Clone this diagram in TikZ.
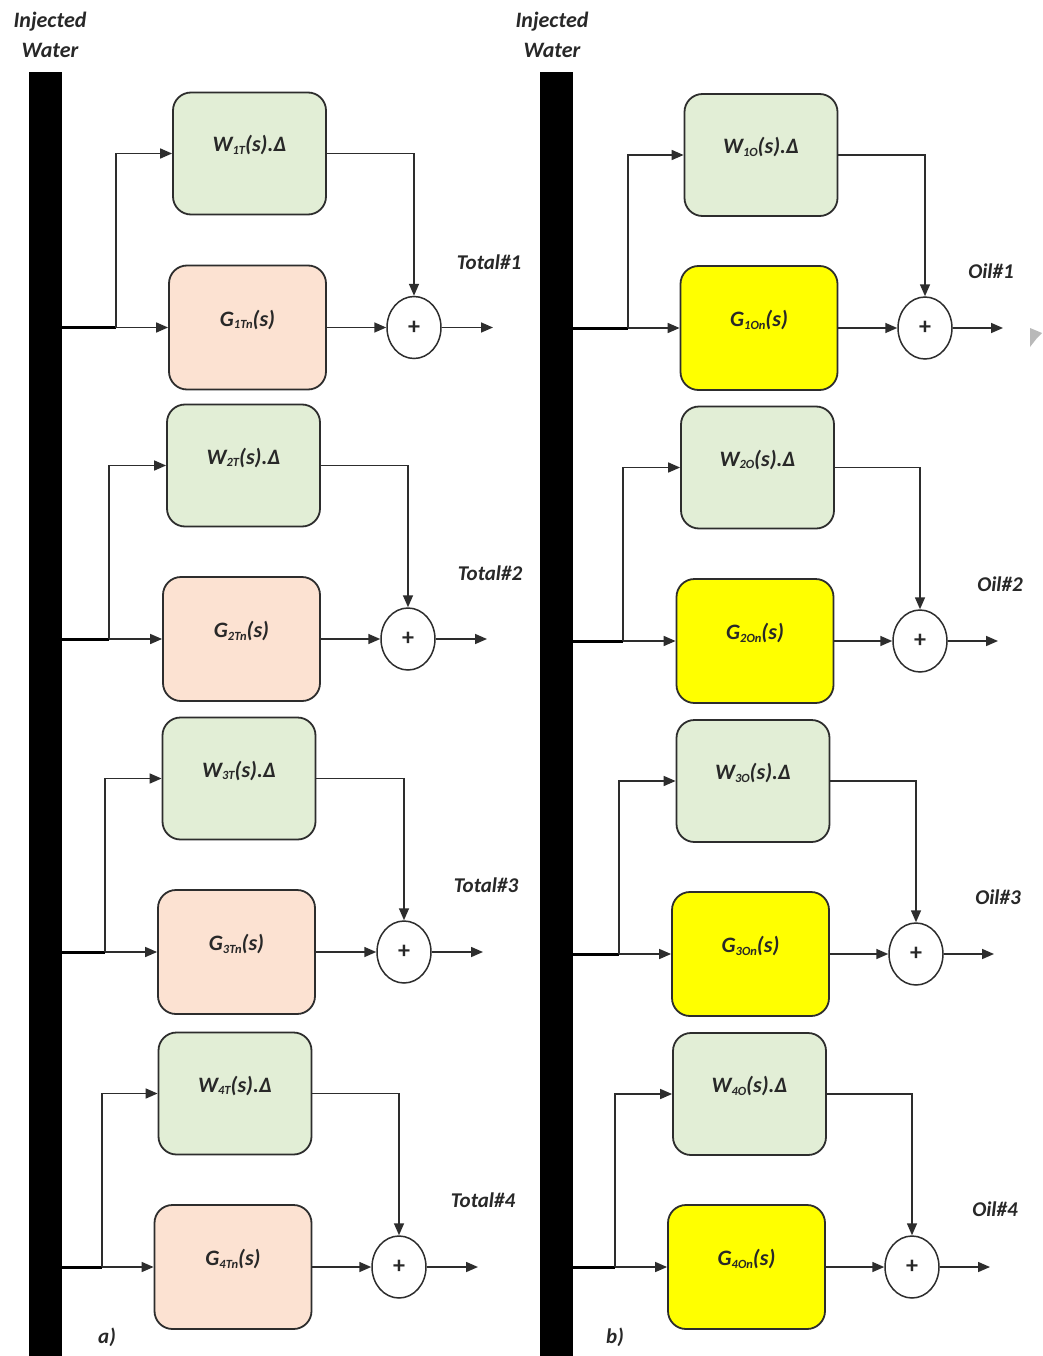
\documentclass[tikz,border=0pt]{standalone}
\usepackage{fontspec}
\setmainfont{Carlito}
\usetikzlibrary{shapes.geometric,arrows.meta}
\definecolor{wfill}{RGB}{226,238,214}
\definecolor{gfill}{RGB}{252,226,210}
\definecolor{yfill}{RGB}{255,255,0}
\definecolor{edge}{RGB}{45,45,45}
\definecolor{txt}{RGB}{40,40,40}
\newcommand{\subx}[1]{\raisebox{-0.12em}{\fontsize{12.5}{12.5}\selectfont #1}}
\begin{document}
\begin{tikzpicture}[x=1pt,y=-1pt,
  font=\fontsize{22}{26}\selectfont\bfseries\itshape, text=txt,
  boxbase/.style={draw=edge, line width=1.8pt, rounded corners=18pt, inner sep=0pt, text height=15pt, text depth=18pt},
  wbox/.style={boxbase, fill=wfill, minimum width=153pt, minimum height=122pt},
  gbox/.style={boxbase, fill=gfill, minimum width=157pt, minimum height=124pt},
  ybox/.style={boxbase, fill=yfill, minimum width=157pt, minimum height=124pt},
  sumnode/.style={draw=edge, line width=1.5pt, ellipse, minimum width=54pt, minimum height=62pt, inner sep=0pt, fill=white, font=\fontsize{24}{24}\selectfont\bfseries},
  ln/.style={draw=edge, line width=1.6pt},
  thk/.style={draw=black, line width=3pt},
  arr/.style={ln, -{Triangle[length=12pt,width=10pt]}},
  barstyle/.style={fill=black, draw=none, minimum width=33pt, minimum height=1284pt, inner sep=0pt},
  lbl/.style={font=\fontsize{21}{25}\selectfont\bfseries\itshape}
]
\useasboundingbox (0,0) rectangle (1042,1356);
\fill[white] (0,0) rectangle (1042,1356);

% bars
\node[barstyle] (barL) at (45,714) {};
\node[barstyle] (barR) at (556,714) {};

% headers
\node[align=center, font=\fontsize{22}{30}\selectfont\bfseries\itshape] (hL) at (50,35) {Injected\\Water};
\node[align=center, font=\fontsize{22}{30}\selectfont\bfseries\itshape] (hR) at (552,35) {Injected\\Water};

% left panel
\foreach \k/\wx/\wy/\gx/\gy/\cx/\bx/\lx/\ly in {
  1/249.5/153.5/247.5/327.5/414/116/489/262,
  2/243.5/465.5/241.5/639/408/109/490/573,
  3/239/778.5/236.5/952/404/105/486/885,
  4/235/1093.5/233/1267/399/102/483/1200}{
  \node[wbox] (wL\k) at (\wx,\wy) {W\subx{\k T}(s).Δ};
  \node[gbox] (gL\k) at (\gx,\gy) {G\subx{\k Tn}(s)};
  \node[sumnode] (sL\k) at (\cx,\gy) {+};
  \node[lbl] (tL\k) at (\lx,\ly) {Total\#\k};
  \coordinate (bL\k) at (\bx,\gy);
  \coordinate (oL\k) at (\cx+79,\gy);
  \draw[thk] (barL.east |- bL\k) -- (bL\k);
  \draw[arr] (bL\k) -- (gL\k.west);
  \draw[arr] (bL\k) -- (bL\k |- wL\k.west) -- (wL\k.west);
  \draw[arr] (wL\k.east) -| (sL\k.north);
  \draw[arr] (gL\k.east) -- (sL\k.west);
  \draw[arr] (sL\k.east) -- (oL\k);
}

% right panel
\foreach \k/\wx/\wy/\gx/\gy/\cx/\bx/\lx/\ly in {
  1/761/155/759/328/925/628/991/271,
  2/757.5/467.5/755/641/920/623/1000/584,
  3/753/781/750.5/954/916/619/998/897,
  4/749.5/1094/746.5/1267/912/615/995/1209}{
  \node[wbox] (wR\k) at (\wx,\wy) {W\subx{\k O}(s).Δ};
  \node[ybox] (gR\k) at (\gx,\gy) {G\subx{\k On}(s)};
  \node[sumnode] (sR\k) at (\cx,\gy) {+};
  \node[lbl] (tR\k) at (\lx,\ly) {Oil\#\k};
  \coordinate (bR\k) at (\bx,\gy);
  \coordinate (oR\k) at (\cx+78,\gy);
  \draw[thk] (barR.east |- bR\k) -- (bR\k);
  \draw[arr] (bR\k) -- (gR\k.west);
  \draw[arr] (bR\k) -- (bR\k |- wR\k.west) -- (wR\k.west);
  \draw[arr] (wR\k.east) -| (sR\k.north);
  \draw[arr] (gR\k.east) -- (sR\k.west);
  \draw[arr] (sR\k.east) -- (oR\k);
}

% panel labels
\node[lbl] (pa) at (107,1337) {a)};
\node[lbl] (pb) at (615,1337) {b)};

% faint grey mark at right edge
\fill[gray!55] (1030,328) -- (1042,333) -- (1037,338) -- (1030,347) -- cycle;
\end{tikzpicture}
\end{document}
